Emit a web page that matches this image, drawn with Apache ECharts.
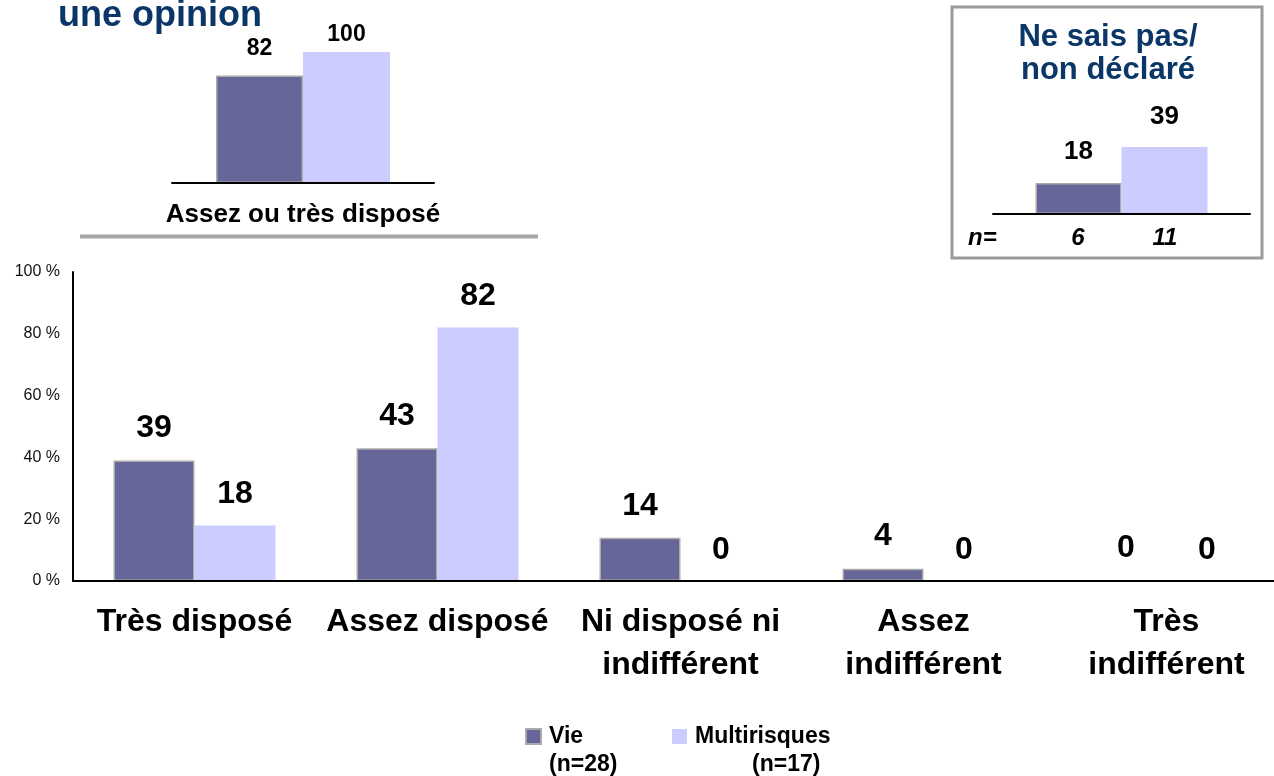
<!DOCTYPE html>
<html>
<head>
<meta charset="utf-8">
<script src="https://cdn.jsdelivr.net/npm/echarts@6/dist/echarts.min.js"></script>
<style>
html,body{margin:0;padding:0;background:#fff;}
#chart{width:1274px;height:776px;}
</style>
</head>
<body>
<div id="chart"></div>
<script>
// ---- data ----
const categories = ['Très disposé', 'Assez disposé', 'Ni disposé ni\nindifférent', 'Assez\nindifférent', 'Très\nindifférent'];
const vieValues = [39, 43, 14, 4, 0];
const multiValues = [18, 82, 0, 0, 0];
const seriesNames = ['Vie', 'Multirisques'];
const seriesCounts = ['(n=28)', '(n=17)'];

const insetCategory = ['Assez ou très disposé'];
const insetVie = [82];
const insetMulti = [100];

const nspTitle = 'Ne sais pas/\nnon déclaré';
const nspCategory = ['Ne sais pas/non déclaré'];
const nspVie = [18];
const nspMulti = [39];
const nspCounts = ['6', '11'];

const titleText = 'une opinion';

// ---- styles ----
const FONT = '"Liberation Sans", Arial, sans-serif';
const VIE_COLOR = '#666699';
const MULTI_COLOR = '#ccccff';
const TITLE_COLOR = '#0b3768';

const chart = echarts.init(document.getElementById('chart'), null, {renderer: 'canvas'});

function barLabel(size, dist) {
  return {show: true, position: 'top', distance: dist, fontFamily: FONT, fontWeight: 'bold', fontSize: size, color: '#000'};
}

const vieStyle = {color: VIE_COLOR, borderColor: '#ababab', borderWidth: 1.5};
const multiStyle = {color: MULTI_COLOR};

function legendOf(name, left) {
  return {data: [{name: name, icon: 'rect'}], left: left, top: 725, padding: 0, itemWidth: 15, itemHeight: 15,
    textStyle: {fontFamily: FONT, fontSize: 23, fontWeight: 'bold', color: '#000', padding: [0, 0, 0, 3]}};
}

const option = {
  backgroundColor: '#fff',
  animation: false,
  textStyle: {fontFamily: FONT},
  legend: [legendOf(seriesNames[0], 525), legendOf(seriesNames[1], 672)],
  grid: [
    {left: 73, top: 272, width: 1215, height: 309, containLabel: false, outerBoundsMode: 'none'},
    {left: 172, top: 52, width: 262, height: 131, containLabel: false, outerBoundsMode: 'none'},
    {left: 993, top: 42, width: 257, height: 172, containLabel: false, outerBoundsMode: 'none'}
  ],
  xAxis: [
    {type: 'category', gridIndex: 0, data: categories, z: 5,
     axisLine: {lineStyle: {color: '#000', width: 2}}, axisTick: {show: false},
     axisLabel: {fontFamily: FONT, fontWeight: 'bold', fontSize: 32, color: '#000', lineHeight: 43, margin: 20, interval: 0}},
    {type: 'category', gridIndex: 1, data: insetCategory, z: 5,
     axisLine: {lineStyle: {color: '#000', width: 2}}, axisTick: {show: false},
     axisLabel: {fontFamily: FONT, fontWeight: 'bold', fontSize: 26, color: '#000', margin: 19}},
    {type: 'category', gridIndex: 2, data: nspCategory, z: 5,
     axisLine: {lineStyle: {color: '#000', width: 2}}, axisTick: {show: false},
     axisLabel: {show: false}}
  ],
  yAxis: [
    {type: 'value', gridIndex: 0, min: 0, max: 100, interval: 20, z: 5,
     axisLine: {show: true, lineStyle: {color: '#000', width: 2}}, axisTick: {show: false},
     splitLine: {show: false},
     axisLabel: {fontFamily: FONT, fontSize: 16, color: '#111', margin: 13, formatter: v => v + ' %'}},
    {type: 'value', gridIndex: 1, min: 0, max: 100, show: false},
    {type: 'value', gridIndex: 2, min: 0, max: 100, show: false}
  ],
  series: [
    {name: seriesNames[0], type: 'bar', xAxisIndex: 0, yAxisIndex: 0, data: vieValues,
     barWidth: 81, barGap: '0%', itemStyle: vieStyle, label: barLabel(32, 16)},
    {name: seriesNames[1], type: 'bar', xAxisIndex: 0, yAxisIndex: 0, data: multiValues,
     barWidth: 81, barGap: '0%', itemStyle: multiStyle, label: barLabel(32, 15)},
    {name: seriesNames[0], type: 'bar', xAxisIndex: 1, yAxisIndex: 1, data: insetVie,
     barWidth: 87, barGap: '0%', itemStyle: vieStyle, label: barLabel(23, 15)},
    {name: seriesNames[1], type: 'bar', xAxisIndex: 1, yAxisIndex: 1, data: insetMulti,
     barWidth: 87, barGap: '0%', itemStyle: multiStyle, label: barLabel(23, 6)},
    {name: seriesNames[0], type: 'bar', xAxisIndex: 2, yAxisIndex: 2, data: nspVie,
     barWidth: 86, barGap: '0%', itemStyle: vieStyle, label: barLabel(26, 18)},
    {name: seriesNames[1], type: 'bar', xAxisIndex: 2, yAxisIndex: 2, data: nspMulti,
     barWidth: 86, barGap: '0%', itemStyle: multiStyle, label: barLabel(26, 17)}
  ],
  graphic: [
    {type: 'rect', z: 0, shape: {x: 952, y: 7, width: 310, height: 251},
     style: {fill: '#fff', stroke: '#9a9a9a', lineWidth: 3}},
    {type: 'line', z: 1, shape: {x1: 80, y1: 236.5, x2: 538, y2: 236.5},
     style: {stroke: '#a6a6a6', lineWidth: 4}},
    {type: 'text', z: 5, x: 58, y: 16,
     style: {text: titleText, font: 'bold 36px ' + FONT, fill: TITLE_COLOR, verticalAlign: 'middle', align: 'left'}},
    {type: 'text', z: 5, x: 1108, y: 54,
     style: {text: nspTitle, font: 'bold 31px ' + FONT, fill: TITLE_COLOR, lineHeight: 33, verticalAlign: 'middle', align: 'center'}},
    {type: 'text', z: 5, x: 968, y: 238,
     style: {text: 'n=', font: 'italic bold 24px ' + FONT, fill: '#000', verticalAlign: 'middle', align: 'left'}},
    {type: 'text', z: 5, x: 1078, y: 238,
     style: {text: nspCounts[0], font: 'italic bold 24px ' + FONT, fill: '#000', verticalAlign: 'middle', align: 'center'}},
    {type: 'text', z: 5, x: 1165, y: 238,
     style: {text: nspCounts[1], font: 'italic bold 24px ' + FONT, fill: '#000', verticalAlign: 'middle', align: 'center'}},
    {type: 'text', z: 5, x: 549, y: 765,
     style: {text: seriesCounts[0], font: 'bold 23px ' + FONT, fill: '#000', verticalAlign: 'middle', align: 'left'}},
    {type: 'text', z: 5, x: 752, y: 765,
     style: {text: seriesCounts[1], font: 'bold 23px ' + FONT, fill: '#000', verticalAlign: 'middle', align: 'left'}}
  ]
};
chart.setOption(option);
</script>
</body>
</html>
